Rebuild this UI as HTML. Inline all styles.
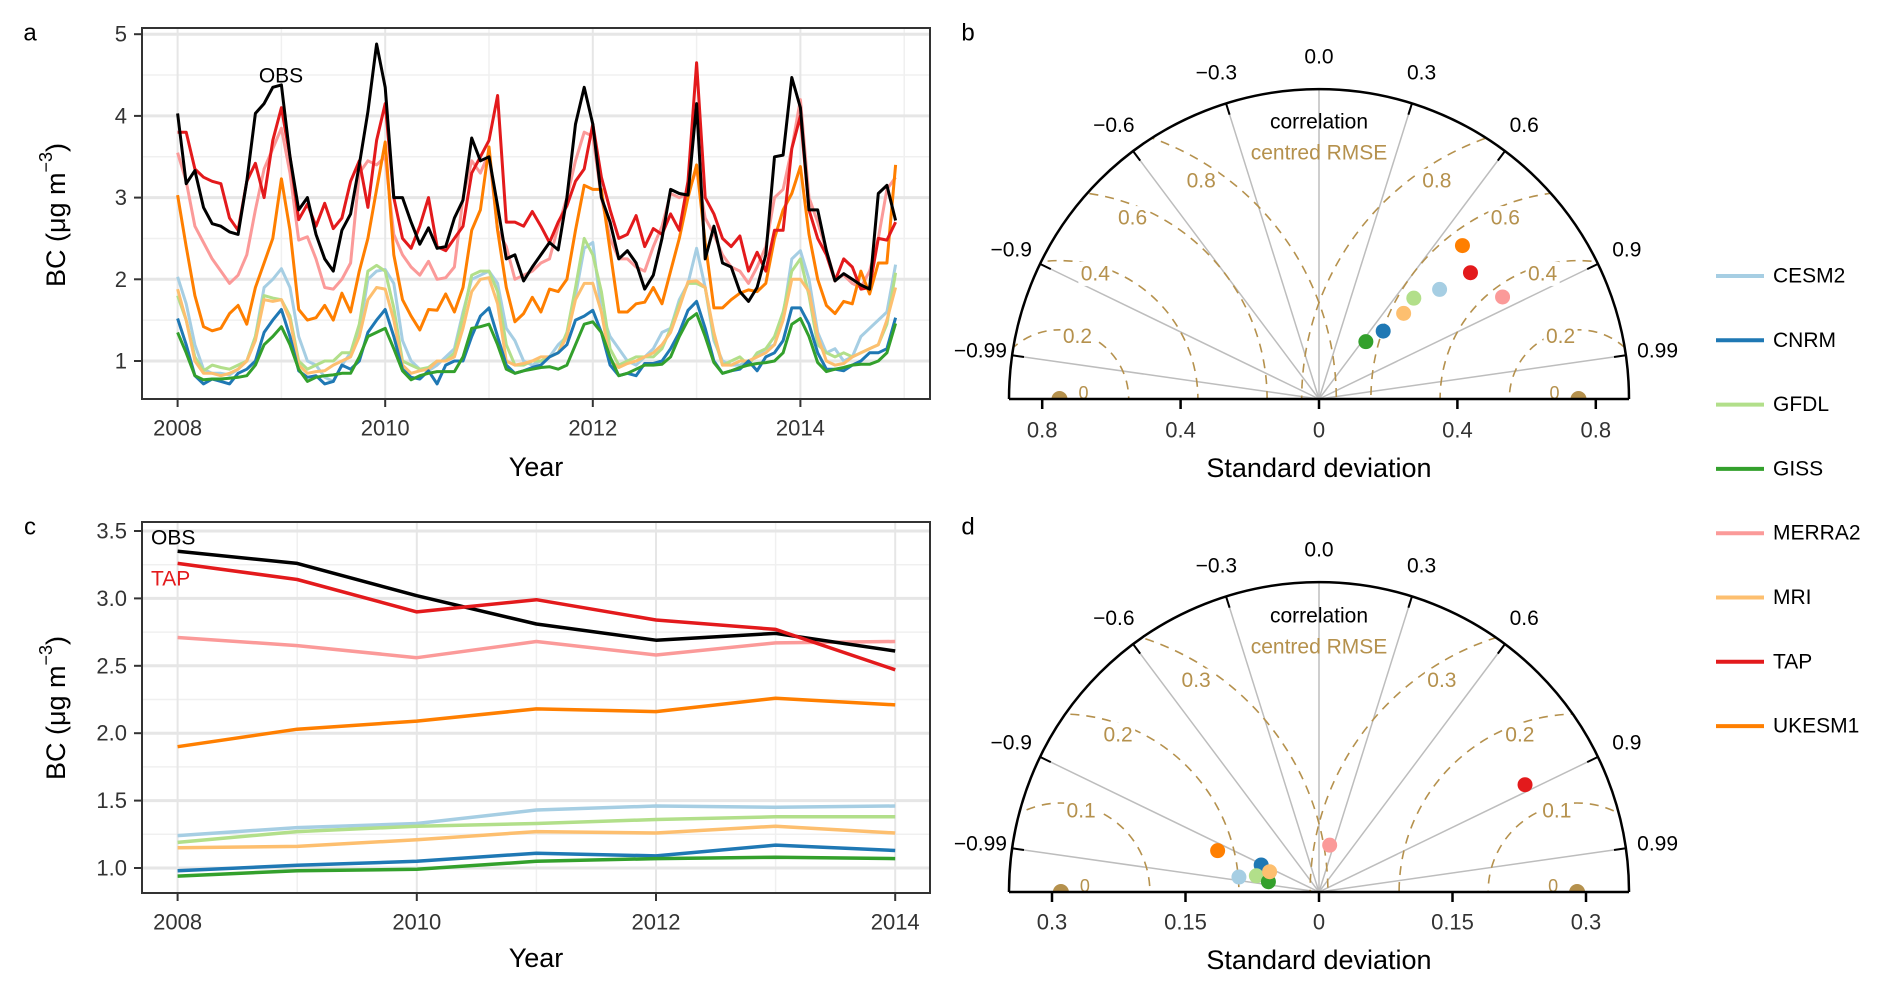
<!DOCTYPE html>
<html><head><meta charset="utf-8">
<style>
html,body{margin:0;padding:0;background:#fff;width:1892px;height:991px;overflow:hidden;position:relative;}
svg{display:block;position:absolute;left:0;top:0;font-family:"Liberation Sans",Arial,sans-serif;}
script{display:none;}
</style></head>
<body><svg id="fig" width="1892" height="991" viewBox="0 0 1892 991" xmlns="http://www.w3.org/2000/svg">
<defs>
<clipPath id="clipA"><rect x="142" y="28" width="788" height="371"/></clipPath>
<clipPath id="clipC"><rect x="142" y="522" width="788" height="371"/></clipPath>
<clipPath id="clipB"><path d="M1009,399 A310,310 0 0 1 1629,399 Z"/></clipPath>
<clipPath id="clipD"><path d="M1009,892 A310,310 0 0 1 1629,892 Z"/></clipPath>
</defs>
</svg><script>
// ---------- data ----------
const models = ["CESM2","CNRM","GFDL","GISS","MERRA2","MRI","TAP","UKESM1"];
const colors = ["#a6cee3","#1f78b4","#b2df8a","#33a02c","#fb9a99","#fdbf6f","#e31a1c","#ff7f00"];
const obsMonthly = [4.03,3.17,3.33,2.88,2.68,2.65,2.58,2.55,3.2,4.03,4.15,4.35,
 4.38,3.5,2.85,3.0,2.55,2.25,2.1,2.6,2.8,3.4,4.05,4.88,
 4.35,3.0,3.0,2.7,2.43,2.63,2.38,2.4,2.75,2.97,3.73,3.45,
 3.5,2.9,2.25,2.3,1.98,2.15,2.3,2.45,2.36,3.0,3.9,4.35,
 3.9,3.0,2.7,2.25,2.35,2.2,1.88,2.05,2.5,3.1,3.05,3.03,
 4.15,2.25,2.65,2.2,2.15,1.85,1.73,1.9,2.3,3.5,3.52,4.47,
 4.1,2.85,2.85,2.35,1.98,2.07,2.0,1.93,1.88,3.05,3.15,2.72];
const tapMonthly = [3.8,3.8,3.35,3.25,3.2,3.17,2.75,2.6,3.2,3.42,3.0,3.7,
 4.1,3.5,2.73,2.92,2.65,2.93,2.62,2.75,3.2,3.45,2.88,3.7,
 4.15,3.0,2.5,2.38,2.65,3.0,2.4,2.35,2.5,2.65,3.3,3.5,
 3.7,4.25,2.7,2.7,2.65,2.83,2.65,2.45,2.7,2.9,3.2,3.35,
 3.9,3.25,2.85,2.5,2.55,2.78,2.4,2.62,2.55,2.8,2.6,3.2,
 4.65,3.0,2.8,2.5,2.4,2.53,2.1,2.33,2.1,2.6,2.6,3.6,
 4.0,2.85,2.5,2.3,1.98,2.25,2.15,1.88,1.9,2.5,2.48,2.7];
const merraMonthly = [3.55,3.2,2.65,2.45,2.25,2.1,1.95,2.05,2.3,2.85,3.35,3.6,
 3.85,3.3,2.48,2.52,2.25,1.9,1.88,2.0,2.2,3.3,3.45,3.4,
 3.5,2.55,2.3,2.15,2.05,2.22,2.0,2.02,2.15,3.0,3.45,3.3,
 3.55,2.6,2.4,2.0,2.05,2.1,2.2,2.25,2.65,3.0,3.45,3.8,
 3.75,3.0,2.5,2.25,2.25,2.15,2.1,2.4,2.65,3.05,3.0,3.05,
 3.35,2.75,2.55,2.3,2.15,2.1,1.95,2.15,2.4,3.0,3.1,3.6,
 4.2,3.0,2.7,2.35,2.0,2.05,1.95,1.9,2.1,2.5,3.1,3.25];
const ukesmMonthly = [3.03,2.4,1.8,1.42,1.37,1.4,1.58,1.68,1.45,1.9,2.2,2.5,
 3.23,2.6,1.63,1.5,1.53,1.68,1.5,1.83,1.6,2.1,2.5,3.1,
 3.68,2.3,1.75,1.55,1.38,1.63,1.62,1.82,1.6,1.9,2.6,2.85,
 3.62,2.6,1.9,1.48,1.58,1.78,1.6,1.88,1.85,2.0,2.6,3.15,
 3.1,3.1,2.35,1.6,1.6,1.7,1.72,1.9,1.7,2.1,2.5,3.0,
 3.4,2.45,1.65,1.65,1.75,1.83,1.87,1.85,1.95,2.5,2.85,3.05,
 3.38,2.55,2.0,1.68,1.58,1.73,1.7,2.1,1.82,2.2,2.2,3.4];
const cesmMonthly = [2.03,1.7,1.2,0.9,0.85,0.85,0.83,0.9,1.0,1.3,1.9,2.0,
 2.13,1.9,1.3,1.0,0.95,0.8,0.75,0.95,1.1,1.35,2.0,2.1,
 2.12,1.95,1.25,1.0,0.9,0.88,0.95,1.05,1.15,1.6,2.0,2.05,
 2.1,1.95,1.4,1.25,1.0,0.95,1.0,1.05,1.2,1.3,1.8,2.38,
 2.45,1.6,1.3,1.15,1.0,0.95,1.05,1.15,1.35,1.4,1.75,1.95,
 2.38,1.9,1.25,1.0,0.95,0.95,1.0,1.05,1.15,1.2,1.55,2.25,
 2.35,2.0,1.35,1.1,1.15,1.0,1.05,1.3,1.4,1.5,1.6,2.18];
const gfdlMonthly = [1.8,1.5,1.05,0.88,0.95,0.92,0.9,0.95,1.0,1.3,1.8,1.77,
 1.75,1.55,1.0,0.9,0.95,1.0,1.0,1.1,1.1,1.45,2.1,2.17,
 2.1,1.65,1.0,0.95,0.9,0.92,1.0,1.0,1.1,1.55,2.05,2.1,
 2.1,1.85,1.2,0.95,0.95,1.0,1.0,1.05,1.1,1.35,1.9,2.5,
 2.3,1.85,1.15,0.95,1.0,1.05,1.05,1.05,1.15,1.4,1.7,1.95,
 1.95,1.9,1.3,0.95,1.0,1.05,0.95,1.1,1.15,1.3,1.6,2.1,
 2.25,1.8,1.2,1.1,1.05,1.1,1.05,1.1,1.15,1.2,1.45,2.08];
const mriMonthly = [1.88,1.5,1.0,0.85,0.85,0.82,0.85,0.9,1.0,1.25,1.75,1.73,
 1.75,1.5,0.95,0.85,0.87,0.88,0.95,1.0,1.05,1.3,1.75,1.9,
 1.88,1.5,0.95,0.85,0.88,0.9,1.0,1.0,1.05,1.4,1.85,2.0,
 2.02,1.7,1.0,0.95,0.97,1.0,1.05,1.05,1.1,1.3,1.75,1.95,
 1.95,1.6,1.0,0.92,0.97,1.0,1.05,1.1,1.2,1.35,1.65,1.97,
 1.98,1.9,1.35,0.95,0.95,1.0,1.0,1.05,1.1,1.2,1.5,2.0,
 2.0,1.85,1.3,1.0,0.95,0.97,1.05,1.1,1.15,1.2,1.5,1.9];
const cnrmMonthly = [1.52,1.2,0.82,0.72,0.78,0.75,0.72,0.85,0.9,1.0,1.35,1.5,
 1.63,1.3,0.88,0.8,0.82,0.72,0.75,0.95,0.9,1.0,1.35,1.5,
 1.63,1.3,0.9,0.8,0.78,0.88,0.72,0.95,1.0,1.0,1.3,1.55,
 1.65,1.3,0.95,0.85,0.88,0.92,0.95,1.05,1.1,1.2,1.5,1.55,
 1.62,1.35,0.95,0.82,0.85,0.82,0.97,0.97,1.0,1.15,1.35,1.62,
 1.73,1.4,1.0,0.85,0.88,0.9,1.0,0.88,1.05,1.1,1.25,1.65,
 1.65,1.45,1.1,0.9,0.9,0.88,0.95,1.0,1.1,1.1,1.15,1.53];
const gissMonthly = [1.35,1.1,0.82,0.77,0.78,0.78,0.79,0.8,0.82,0.95,1.2,1.3,
 1.42,1.2,0.9,0.75,0.8,0.82,0.83,0.85,0.85,1.05,1.3,1.35,
 1.4,1.15,0.88,0.77,0.82,0.85,0.87,0.87,0.87,1.05,1.4,1.42,
 1.45,1.2,0.9,0.85,0.88,0.9,0.92,0.93,0.9,0.95,1.2,1.45,
 1.48,1.35,1.05,0.82,0.85,0.9,0.95,0.95,0.96,1.05,1.3,1.5,
 1.58,1.3,0.98,0.85,0.88,0.92,0.95,0.97,0.98,1.0,1.1,1.45,
 1.52,1.3,0.98,0.87,0.9,0.92,0.95,0.96,0.96,1.0,1.1,1.46];
const aTicksX = [2008,2010,2012,2014];
const aTicksY = [1,2,3,4,5];
const years = [2008,2009,2010,2011,2012,2013,2014];
const obsAnnual   = [3.35,3.26,3.02,2.81,2.69,2.74,2.61];
const tapAnnual   = [3.26,3.14,2.90,2.99,2.84,2.77,2.47];
const merraAnnual = [2.71,2.65,2.56,2.68,2.58,2.67,2.68];
const ukesmAnnual = [1.90,2.03,2.09,2.18,2.16,2.26,2.21];
const cesmAnnual  = [1.24,1.30,1.33,1.43,1.46,1.45,1.46];
const gfdlAnnual  = [1.19,1.27,1.31,1.33,1.36,1.38,1.38];
const mriAnnual   = [1.15,1.16,1.21,1.27,1.26,1.31,1.26];
const cnrmAnnual  = [0.98,1.02,1.05,1.11,1.09,1.17,1.13];
const gissAnnual  = [0.94,0.98,0.99,1.05,1.07,1.08,1.07];
const cTicksX = [2008,2010,2012,2014];
const cTicksY = [1.0,1.5,2.0,2.5,3.0,3.5];
const cTickLabelsY = ["1.0","1.5","2.0","2.5","3.0","3.5"];
const bSD  = [0.471,0.27,0.40,0.214,0.607,0.348,0.57,0.607];
const bCor = [0.740,0.687,0.685,0.633,0.874,0.703,0.768,0.683];
const bObsSD = 0.75;
const bRmse = [0.2,0.4,0.6,0.8];
const bRmseLabels = ["0.2","0.4","0.6","0.8"];
const bRmseLabelAngles = [106,106,112,123];
const bSdTicks = [0.4,0.8];
const bSdTickLabels = ["0.4","0.8"];
const dSD  = [0.0915,0.0717,0.0727,0.058,0.054,0.06,0.261,0.123];
const dCor = [-0.983,-0.906,-0.968,-0.98,0.222,-0.925,0.887,-0.926];
const dObsSD = 0.29;
const dRmse = [0.1,0.2,0.3];
const dRmseLabels = ["0.1","0.2","0.3"];
const dRmseLabelAngles = [104,110,122.6];
const dSdTicks = [0.15,0.3];
const dSdTickLabels = ["0.15","0.3"];
const corTicks = [-0.99,-0.9,-0.6,-0.3,0,0.3,0.6,0.9,0.99];
const corLabels = ["\u22120.99","\u22120.9","\u22120.6","\u22120.3","0.0","0.3","0.6","0.9","0.99"];

const NS = "http://www.w3.org/2000/svg";
const svg = document.getElementById("fig");
function el(tag, attrs, parent){
  const e = document.createElementNS(NS, tag);
  for (const k in attrs) e.setAttribute(k, attrs[k]);
  (parent||svg).appendChild(e);
  return e;
}
function txt(s, x, y, size, fill, anchor, name, parent){
  const t = el("text", {x:x, y:y, "font-size":size, fill:fill, "text-anchor":anchor||"middle", "dominant-baseline":"central"}, parent);
  t.textContent = s;
  
  
  return t;
}
const TICKC = "#333333";
const BROWN = "#b5914d";

// ---------- Panel A ----------
const xA = v => 177.6 + (v-2008)*103.8;
const yA = v => 361 - (v-1)*81.7;
const gA = el("g", {});


txt("a", 30, 33, 24, "#000", "middle", "panel-a-label", gA);
for (let v=1.5; v<=4.5; v+=1){ const l=el("line",{x1:142,x2:930,y1:yA(v),y2:yA(v),stroke:"#f0f0f0","stroke-width":1.5},gA);   }
for (let v=2009; v<=2015; v+=2){ const l=el("line",{x1:xA(v),x2:xA(v),y1:28,y2:399,stroke:"#f0f0f0","stroke-width":1.5},gA);   }
aTicksY.forEach(v=>{ const l=el("line",{x1:142,x2:930,y1:yA(v),y2:yA(v),stroke:"#e6e6e6","stroke-width":3},gA);  
  const t=el("line",{x1:134,x2:142,y1:yA(v),y2:yA(v),stroke:TICKC,"stroke-width":2},gA);  
  txt(String(v),127,yA(v),22,TICKC,"end","y-tick-label",gA); });
aTicksX.forEach(v=>{ const l=el("line",{x1:xA(v),x2:xA(v),y1:28,y2:399,stroke:"#e6e6e6","stroke-width":2},gA);  
  const t=el("line",{x1:xA(v),x2:xA(v),y1:399,y2:407,stroke:TICKC,"stroke-width":2},gA);  
  txt(String(v),xA(v),428,22,TICKC,"middle","x-tick-label",gA); });
const aSeries = [[cesmMonthly,0],[gfdlMonthly,2],[mriMonthly,5],[cnrmMonthly,1],[gissMonthly,3],[merraMonthly,4],[ukesmMonthly,7],[tapMonthly,6]];
aSeries.forEach(([arr,ci])=>{
  const d = arr.map((v,i)=>(i?"L":"M")+xA(2008+i/12).toFixed(1)+","+yA(v).toFixed(1)).join(" ");
  const p = el("path",{d:d,fill:"none",stroke:colors[ci],"stroke-width":3,"stroke-linejoin":"round","clip-path":"url(#clipA)"},gA);
  
  
});
{ const d = obsMonthly.map((v,i)=>(i?"L":"M")+xA(2008+i/12).toFixed(1)+","+yA(v).toFixed(1)).join(" ");
  const p = el("path",{d:d,fill:"none",stroke:"#000","stroke-width":3,"stroke-linejoin":"round","clip-path":"url(#clipA)"},gA);
  
   }
txt("OBS",281,76,21,"#000","middle","obs-label-a",gA);
{ const b=el("rect",{x:142,y:28,width:788,height:371,fill:"none",stroke:"#333","stroke-width":2},gA);   }
{ const t=txt("",0,0,27,"#000","middle","y-axis-title-a",gA); t.setAttribute("transform","translate(56,215) rotate(-90)");
  const s1=el("tspan",{},t); s1.textContent="BC (\u03bcg m"; const s2=el("tspan",{dy:-10,"font-size":18},t); s2.textContent="\u22123"; const s3=el("tspan",{dy:10},t); s3.textContent=")"; }
txt("Year",536,467,27,"#000","middle","x-axis-title-a",gA);

// ---------- Panel C ----------
const xC = v => 177.6 + (v-2008)*119.6;
const yC = v => 868 - (v-1)*134.8;
const gC = el("g", {});


txt("c", 30, 527, 24, "#000", "middle", "panel-c-label", gC);
for (let v=1.25; v<=3.5; v+=0.5){ const l=el("line",{x1:142,x2:930,y1:yC(v),y2:yC(v),stroke:"#f0f0f0","stroke-width":1.5},gC);   }
for (let v=2009; v<=2013; v+=2){ const l=el("line",{x1:xC(v),x2:xC(v),y1:522,y2:893,stroke:"#f0f0f0","stroke-width":1.5},gC);   }
cTicksY.forEach((v,i)=>{ const l=el("line",{x1:142,x2:930,y1:yC(v),y2:yC(v),stroke:"#e6e6e6","stroke-width":3},gC);  
  const t=el("line",{x1:134,x2:142,y1:yC(v),y2:yC(v),stroke:TICKC,"stroke-width":2},gC);  
  txt(cTickLabelsY[i],127,yC(v),22,TICKC,"end","y-tick-label",gC); });
cTicksX.forEach(v=>{ const l=el("line",{x1:xC(v),x2:xC(v),y1:522,y2:893,stroke:"#e6e6e6","stroke-width":2},gC);  
  const t=el("line",{x1:xC(v),x2:xC(v),y1:893,y2:901,stroke:TICKC,"stroke-width":2},gC);  
  txt(String(v),xC(v),922,22,TICKC,"middle","x-tick-label",gC); });
const cSeries = [[cesmAnnual,0],[gfdlAnnual,2],[mriAnnual,5],[cnrmAnnual,1],[gissAnnual,3],[merraAnnual,4],[ukesmAnnual,7]];
cSeries.forEach(([arr,ci])=>{
  const d = arr.map((v,i)=>(i?"L":"M")+xC(years[i]).toFixed(1)+","+yC(v).toFixed(1)).join(" ");
  const p = el("path",{d:d,fill:"none",stroke:colors[ci],"stroke-width":3.5,"stroke-linejoin":"round","clip-path":"url(#clipC)"},gC);
  
  
});
{ const d = obsAnnual.map((v,i)=>(i?"L":"M")+xC(years[i]).toFixed(1)+","+yC(v).toFixed(1)).join(" ");
  const p = el("path",{d:d,fill:"none",stroke:"#000","stroke-width":3.5,"stroke-linejoin":"round","clip-path":"url(#clipC)"},gC);
  
   }
{ const d = tapAnnual.map((v,i)=>(i?"L":"M")+xC(years[i]).toFixed(1)+","+yC(v).toFixed(1)).join(" ");
  const p = el("path",{d:d,fill:"none",stroke:colors[6],"stroke-width":3.5,"stroke-linejoin":"round","clip-path":"url(#clipC)"},gC);
  
   }
txt("OBS",151,538,21,"#000","start","obs-label-c",gC);
txt("TAP",151,579,21,colors[6],"start","tap-label-c",gC);
{ const b=el("rect",{x:142,y:522,width:788,height:371,fill:"none",stroke:"#333","stroke-width":2},gC);   }
{ const t=txt("",0,0,27,"#000","middle","y-axis-title-c",gC); t.setAttribute("transform","translate(56,708) rotate(-90)");
  const s1=el("tspan",{},t); s1.textContent="BC (\u03bcg m"; const s2=el("tspan",{dy:-10,"font-size":18},t); s2.textContent="\u22123"; const s3=el("tspan",{dy:10},t); s3.textContent=")"; }
txt("Year",536,958,27,"#000","middle","x-axis-title-c",gC);

// ---------- Taylor diagrams ----------
function taylor(name, letter, letterY, ox, oy, scale, sdArr, corArr, obsSD, rmse, rmseLabels, rmseAngles, sdTicks, sdTickLabels, clipId, corrY, tickLabY, titleY){
  const R = 310;
  const g = el("g",{});
  
  
  txt(letter, 968, letterY, 24, "#000", "middle", name+"-label", g);
  corTicks.forEach((c,i)=>{
    const a = Math.acos(c);
    const ex = ox + R*Math.cos(a), ey = oy - R*Math.sin(a);
    const l = el("line",{x1:ox,y1:oy,x2:ex,y2:ey,stroke:"#bdbdbd","stroke-width":1.5},g);
    
    
    if (c!==0){
      const tk = el("line",{x1:ox+(R-12)*Math.cos(a),y1:oy-(R-12)*Math.sin(a),x2:ex,y2:ey,stroke:"#000","stroke-width":2},g);
      
      
    }
    const lr = R+32;
    txt(corLabels[i], ox+lr*Math.cos(a), oy-lr*Math.sin(a), 21, "#000", "middle", "correlation-tick-label", g);
  });
  [obsSD,-obsSD].forEach((cx0,side)=>{
    rmse.forEach((r,j)=>{
      const c = el("circle",{cx:ox+cx0*scale,cy:oy,r:r*scale,fill:"none",stroke:BROWN,"stroke-width":1.6,"stroke-dasharray":"9,7","clip-path":"url(#"+clipId+")"},g);
      
      
      const deg = side===0 ? rmseAngles[j] : 180-rmseAngles[j];
      const ang = deg*Math.PI/180;
      const lx = ox+cx0*scale + r*scale*0.94*Math.cos(ang), ly = oy - r*scale*0.94*Math.sin(ang);
      const bg = el("rect",{x:lx-17,y:ly-12,width:34,height:24,fill:"#fff"},g);
      
      
      txt(rmseLabels[j], lx, ly, 21, BROWN, "middle", "rmse-label", g);
    });
    const rp = el("circle",{cx:ox+cx0*scale,cy:oy,r:8,fill:BROWN,"clip-path":"url(#"+clipId+")"},g);
    
    
    txt("0", ox+cx0*scale+(side===0?-24:24), oy-6, 18, BROWN, "middle", "rmse-zero-label", g);
  });
  const arc = el("path",{d:`M${ox-R},${oy} A${R},${R} 0 0 1 ${ox+R},${oy}`,fill:"none",stroke:"#000","stroke-width":2.5},g);
  
  
  const base = el("line",{x1:ox-R,y1:oy,x2:ox+R,y2:oy,stroke:"#000","stroke-width":2.5},g);
  
  
  const tks = [0].concat(sdTicks);
  const tkl = ["0"].concat(sdTickLabels);
  tks.forEach((v,i)=>{
    [1,-1].forEach(s=>{
      if (v===0 && s===-1) return;
      const x = ox + s*v*scale;
      const t = el("line",{x1:x,x2:x,y1:oy,y2:oy+10,stroke:"#000","stroke-width":2.5},g);
      
      
      txt(tkl[i], x, tickLabY, 22, TICKC, "middle", "sd-tick-label", g);
    });
  });
  txt("correlation", ox, corrY, 21, "#000", "middle", "correlation-title", g);
  txt("centred RMSE", ox, corrY+31, 21, BROWN, "middle", "rmse-title", g);
  txt("Standard deviation", ox, titleY, 27, "#000", "middle", "x-axis-title-"+letter, g);
  sdArr.forEach((sd,i)=>{
    const a = Math.acos(corArr[i]);
    const p = el("circle",{cx:ox+sd*scale*Math.cos(a),cy:oy-sd*scale*Math.sin(a),r:7.5,fill:colors[i]},g);
    
    
  });
}
taylor("panel-b","b",33,1319,399,346,bSD,bCor,bObsSD,bRmse,bRmseLabels,bRmseLabelAngles,bSdTicks,bSdTickLabels,"clipB",122,430,468);
taylor("panel-d","d",527,1319,892,890,dSD,dCor,dObsSD,dRmse,dRmseLabels,dRmseLabelAngles,dSdTicks,dSdTickLabels,"clipD",616,922,960);

// ---------- legend ----------
const gL = el("g",{});


models.forEach((m,i)=>{
  const y = 276 + i*64.3;
  const l = el("line",{x1:1716,x2:1764,y1:y,y2:y,stroke:colors[i],"stroke-width":4},gL);
  
  
  txt(m, 1773, y, 21, "#000", "start", "legend-label-"+m.toLowerCase(), gL);
});
</script></body></html>
